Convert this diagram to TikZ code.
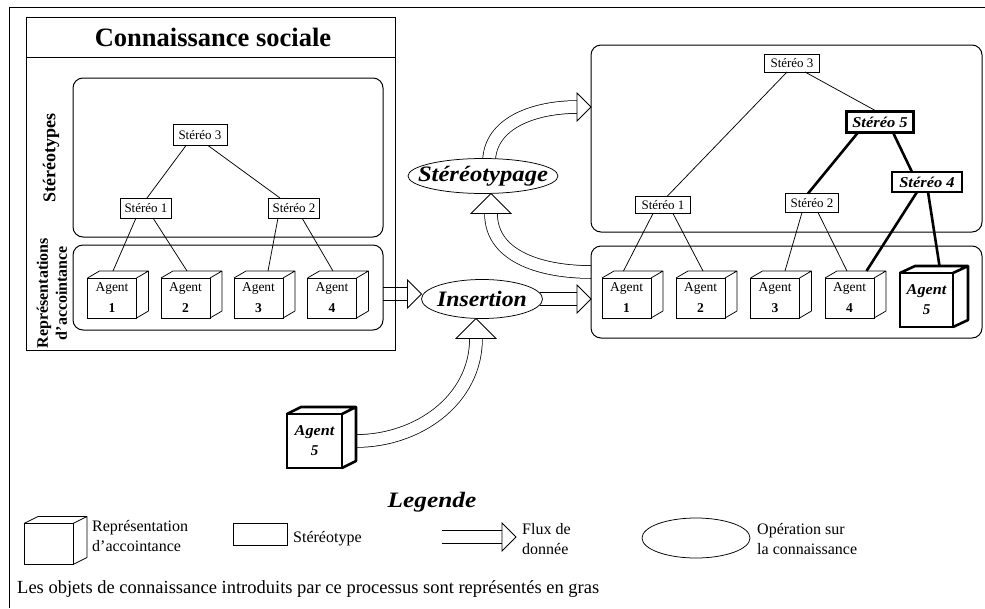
\documentclass[tikz,border=0pt]{standalone}
\usepackage{fontspec}
\setmainfont{Liberation Serif}
\usepackage{graphicx}
\usetikzlibrary{shapes.geometric,calc}
\pgfdeclarelayer{bg}
\pgfsetlayers{bg,main}
\newcommand\cubeside[3]{\draw[line join=round,#3] (#1.north west) -- ++(#2) -- ($(#1.north east)+(#2)$) -- ($(#1.south east)+(#2)$) -- (#1.south east) (#1.north east) -- ++(#2);}
\newcommand\fhead[4]{\draw[line width=0.75pt, fill=white, line join=miter, shift={(#1)}, rotate=#2] (0,0) -- (-#3,#4) -- (-#3,-#4) -- cycle;}
\begin{document}
\begin{tikzpicture}[x=1pt,y=1pt,
  stbox/.style={draw, line width=0.75pt, fill=white, inner sep=0pt, outer sep=0pt, minimum height=20, font=\fontsize{13}{14}\selectfont},
  stboxb/.style={stbox, line width=2.6pt, minimum height=21, font=\fontsize{15}{17}\selectfont\bfseries\itshape},
  agentbox/.style={draw, line width=0.75pt, fill=white, inner sep=0pt, outer sep=0pt, minimum width=49, minimum height=40, align=center, font=\fontsize{13.5}{14}\selectfont},
  agentboxb/.style={agentbox, line width=2.6pt, font=\fontsize{15}{16}\selectfont\bfseries\itshape},
  opell/.style={draw, ellipse, line width=0.75pt, fill=white, inner sep=0pt, outer sep=0pt},
  optext/.style={font=\fontsize{22}{24}\selectfont\bfseries\itshape, inner sep=0pt},
  shaft/.style={draw, line width=0.75pt, double distance=12pt},
  cont/.style={draw, line width=1pt, inner sep=0pt, outer sep=0pt, anchor=north west},
  rbox/.style={cont, rounded corners=10pt},
  link/.style={line width=0.75pt},
  linkb/.style={line width=2.6pt},
  legtext/.style={anchor=west, align=left, inner sep=0pt, font=\fontsize{16}{20}\selectfont},
]
\useasboundingbox (0,0) rectangle (985,-608);
% outer frame
\draw[line width=0.9pt] (9,-608) -- (9,-7) -- (985,-7);

% ---------- left panel ----------
\node[cont, minimum width=369, minimum height=333] (panelL) at (26,-17) {};
\draw[line width=1pt] ([yshift=-40]panelL.north west) -- ([yshift=-40]panelL.north east);
\node[font=\fontsize{26.5}{28}\selectfont\bfseries] (title) at (213,-37) {Connaissance sociale};
\node[rbox, minimum width=310, minimum height=159] (stL) at (73,-78) {};
\node[rbox, minimum width=310, minimum height=85] (reprL) at (73,-245) {};
\node[rotate=90, font=\fontsize{18}{20}\selectfont\bfseries] (lbst) at (51,-158) {Stéréotypes};
\node[rotate=90, align=center, font=\fontsize{16}{19}\selectfont\bfseries] (lbrep) at (52,-293) {Représentations\\d’accointance};

\node[stbox, minimum width=54, minimum height=21] (s3L) at (200,-135) {Stéréo 3};
\node[stbox, minimum width=51] (s1L) at (146,-208) {Stéréo 1};
\node[stbox, minimum width=51] (s2L) at (294,-208) {Stéréo 2};

\node[agentbox] (a1L) at (112,-298) {Agent\\[7pt]\textbf{1}};
\node[agentbox] (a2L) at (185.5,-298) {Agent\\[7pt]\textbf{2}};
\node[agentbox] (a3L) at (258.5,-298) {Agent\\[7pt]\textbf{3}};
\node[agentbox] (a4L) at (332,-298) {Agent\\[7pt]\textbf{4}};
\foreach \n in {a1L,a2L,a3L,a4L} {\cubeside{\n}{12,7}{line width=0.75pt}}

\draw[link] ([xshift=-14]s3L.south) -- ([xshift=1]s1L.north);
\draw[link] ([xshift=8]s3L.south) -- ([xshift=-14]s2L.north);
\draw[link] ([xshift=-10]s1L.south) -- ([shift={(1,7)}]a1L.north);
\draw[link] ([xshift=7]s1L.south) -- ([shift={(1.5,7)}]a2L.north);
\draw[link] ([xshift=-16]s2L.south) -- ([shift={(9.5,7)}]a3L.north);
\draw[link] ([xshift=8]s2L.south) -- ([shift={(1,7)}]a4L.north);

% ---------- right panel ----------
\node[rbox, minimum width=391, minimum height=187] (stR) at (591,-45) {};
\node[rbox, minimum width=391, minimum height=92] (reprR) at (591,-246) {};

\node[stbox, minimum width=55, minimum height=18] (s3R) at (792,-63) {Stéréo 3};
\node[stbox, minimum width=55, minimum height=17] (s1R) at (663,-205) {Stéréo 1};
\node[stbox, minimum width=53, minimum height=19] (s2R) at (812,-203) {Stéréo 2};
\node[stboxb, minimum width=67] (s5R) at (880,-122) {\scalebox{1.1}[1]{Stéréo 5}};
\node[stboxb, minimum width=70, minimum height=20] (s4R) at (927,-182) {\scalebox{1.1}[1]{Stéréo 4}};

\node[agentbox] (a1R) at (626.5,-298) {Agent\\[7pt]\textbf{1}};
\node[agentbox] (a2R) at (700.5,-298) {Agent\\[7pt]\textbf{2}};
\node[agentbox] (a3R) at (775,-298) {Agent\\[7pt]\textbf{3}};
\node[agentbox] (a4R) at (849.5,-298) {Agent\\[7pt]\textbf{4}};
\foreach \n in {a1R,a2R,a3R,a4R} {\cubeside{\n}{12,7}{line width=0.75pt}}
\node[agentboxb, minimum width=53, minimum height=54] (a5R) at (926.5,-300) {\scalebox{1.08}[1]{Agent}\\[4pt]5};
\cubeside{a5R}{15,7}{line width=2.6pt}

\draw[link] ([xshift=-5]s3R.south) -- ([xshift=4]s1R.north);
\draw[link] ([xshift=13]s3R.south) -- ([xshift=-3]s5R.north);
\draw[linkb] ([xshift=-22]s5R.south) -- ([xshift=-4]s2R.north);
\draw[linkb] ([xshift=13]s5R.south) -- ([xshift=-15]s4R.north);
\draw[linkb] ([xshift=-10]s4R.south) -- ([shift={(17,7)}]a4R.north);
\draw[linkb] ([xshift=1]s4R.south) -- ([shift={(13,7)}]a5R.north);
\draw[link] ([xshift=-10]s1R.south) -- ([shift={(-3,7)}]a1R.north);
\draw[link] ([xshift=10]s1R.south) -- ([shift={(2.5,7)}]a2R.north);
\draw[link] ([xshift=-10]s2R.south) -- ([shift={(10,7)}]a3R.north);
\draw[link] ([xshift=6]s2R.south) -- ([shift={(-2.5,7)}]a4R.north);

% ---------- operations ----------
\node[opell, minimum width=150, minimum height=35] (stp) at (483,-176) {};
\node[optext] (stpt) at (stp.center) {\scalebox{1.12}[1]{Stéréotypage}};
\node[opell, minimum width=121, minimum height=39] (ins) at (482,-299) {};
\node[optext] (inst) at (ins.center) {\scalebox{1.08}[1]{Insertion}};

% new agent
\node[agentboxb, minimum width=55, minimum height=54] (ag5) at (314.5,-441) {\scalebox{1.08}[1]{Agent}\\[4pt]5};
\cubeside{ag5}{14,7}{line width=2.6pt}

% flux arrows
\coordinate (f1tip) at ([yshift=5]ins.west);
\coordinate (f2tip) at (reprR.west |- ins.center);
\coordinate (f3tip) at ([yshift=-62]stR.north west);
\coordinate (f4start) at ([yshift=-26]reprR.north west);
\coordinate (f4tip) at ([xshift=8]stp.south);
\coordinate (f5tip) at ([xshift=-6]ins.south);
\coordinate (f5start) at ([xshift=14]ag5.east);
\begin{pgfonlayer}{bg}
\draw[shaft] (reprL.east |- f1tip) -- ([xshift=-14]f1tip);
\draw[shaft] ([xshift=-3]ins.east |- f2tip) -- ([xshift=-14]f2tip);
\draw[shaft] ([xshift=6,yshift=-4]stp.north) to[out=90,in=180] ([xshift=-14]f3tip);
\draw[shaft] (f4start) to[out=180,in=-90] ([yshift=-20]f4tip);
\draw[shaft] (f5start) to[out=0,in=-90] ([yshift=-20]f5tip);
\end{pgfonlayer}
\fhead{f1tip}{0}{14}{14}
\fhead{f2tip}{0}{14}{14}
\fhead{f3tip}{0}{14}{14}
\fhead{f4tip}{90}{20}{20}
\fhead{f5tip}{90}{20}{20}

% ---------- legend ----------
\node[optext] (legt) at (432,-502) {\scalebox{1.15}[1]{Legende}};
\node[agentbox, minimum width=49, minimum height=41] (lgcube) at (48.5,-544) {};
\cubeside{lgcube}{14,7}{line width=0.75pt}
\node[legtext] (lgcubet) at (92,-536) {Représentation\\d’accointance};
\node[stbox, minimum width=54, minimum height=22] (lgst) at (260,-534) {};
\node[legtext] (lgstt) at (293,-539) {Stéréotype};
\coordinate (lftip) at (516,-537);
\coordinate (lfstart) at (442,-537);
\begin{pgfonlayer}{bg}
\draw[shaft] (lfstart) -- ([xshift=-14]lftip);
\end{pgfonlayer}
\fhead{lftip}{0}{14}{14}
\node[legtext] (lgflt) at (522,-539) {Flux de\\donnée};
\node[opell, minimum width=108, minimum height=40] (lgell) at (696,-538) {};
\node[legtext] (lgellt) at (757,-539) {Opération sur\\la connaissance};

\node[anchor=west, inner sep=0pt, font=\fontsize{18.5}{20}\selectfont] (foot) at (17,-589) {Les objets de connaissance introduits par ce processus sont représentés en gras};
\end{tikzpicture}
\end{document}
